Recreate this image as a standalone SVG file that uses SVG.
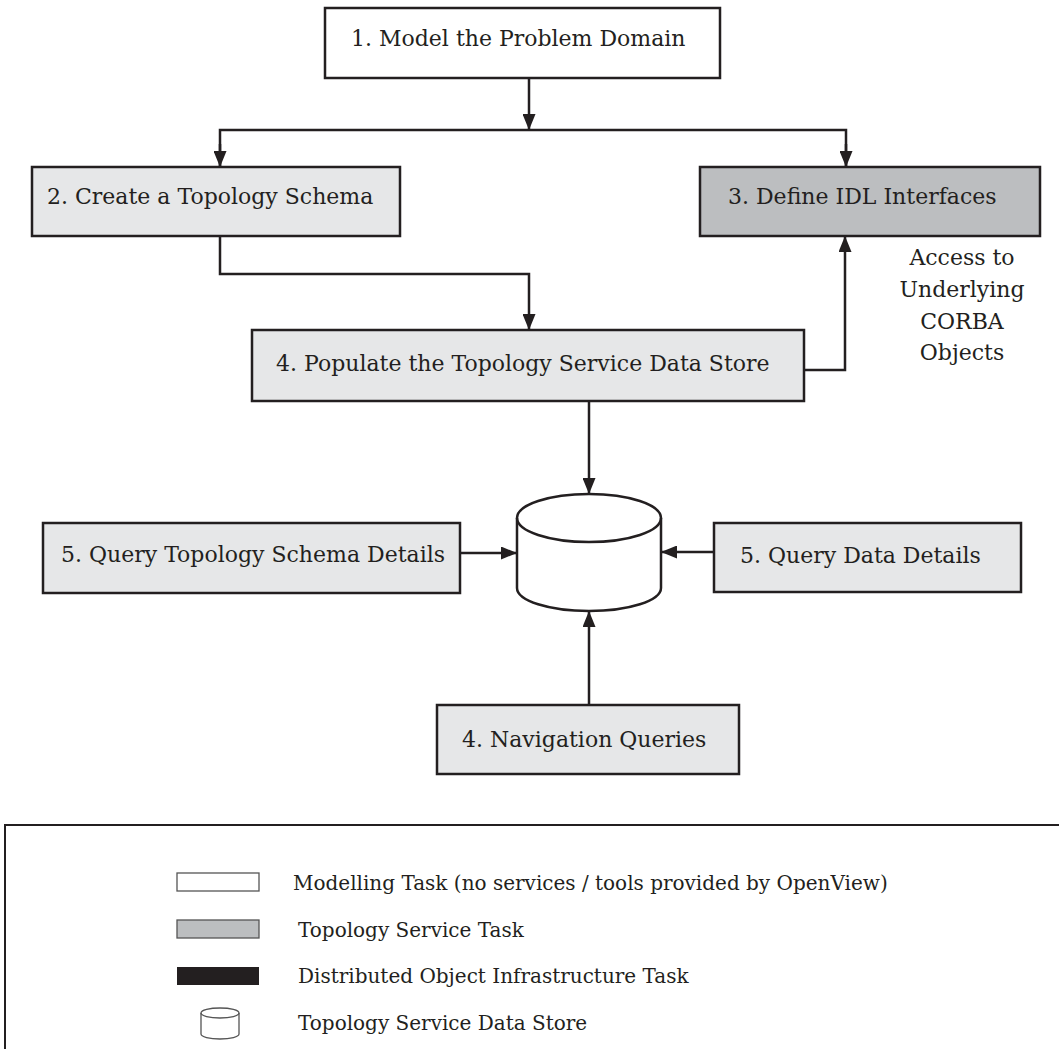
<svg xmlns="http://www.w3.org/2000/svg" width="1059" height="1049" viewBox="0 0 1059 1049">
<style>
.box{stroke:#231f20;stroke-width:2.5}
.white{fill:#ffffff}
.light{fill:#e6e7e8}
.dark{fill:#bcbec0}
.lbl{font-family:"DejaVu Serif","Liberation Serif",serif;font-size:22px;fill:#231f20}
.leglbl{font-family:"DejaVu Serif","Liberation Serif",serif;font-size:20px;fill:#231f20}
.conn{fill:none;stroke:#231f20;stroke-width:2.5}
.leg{stroke:#555;stroke-width:1.3}
</style>
<defs>
<marker id="ah" markerUnits="userSpaceOnUse" markerWidth="16" markerHeight="13" viewBox="0 0 16 13" refX="16" refY="6.5" orient="auto">
<path d="M0,0 L16,6.5 L0,13 Z" fill="#231f20"/>
</marker>
</defs>
<rect width="1059" height="1049" fill="#ffffff"/>
<g id="connectors">
<path class="conn" d="M529,78 V130" marker-end="url(#ah)"/>
<path class="conn" d="M220,167 V130 H846 V167" />
<path class="conn" d="M220,144 V167" marker-end="url(#ah)"/>
<path class="conn" d="M846,144 V167" marker-end="url(#ah)"/>
<path class="conn" d="M220,236 V274 H529 V330" marker-end="url(#ah)"/>
<path class="conn" d="M804,370 H845 V236" marker-end="url(#ah)"/>
<path class="conn" d="M589,401 V494" marker-end="url(#ah)"/>
<path class="conn" d="M460,553 H517" marker-end="url(#ah)"/>
<path class="conn" d="M714,552 H661" marker-end="url(#ah)"/>
<path class="conn" d="M589,705 V611" marker-end="url(#ah)"/>
</g>
<g id="n1">
<rect class="box white" x="325" y="8" width="395" height="70"/>
<text class="lbl" x="351" y="46">1. Model the Problem Domain</text>
</g>
<g id="n2">
<rect class="box light" x="32" y="167" width="368" height="69"/>
<text class="lbl" x="47" y="204">2. Create a Topology Schema</text>
</g>
<g id="n3">
<rect class="box dark" x="700" y="167" width="340" height="69"/>
<text class="lbl" x="728" y="204">3. Define IDL Interfaces</text>
</g>
<g id="access-label">
<text class="lbl" text-anchor="middle" x="962" y="265">Access to</text>
<text class="lbl" text-anchor="middle" x="962" y="297">Underlying</text>
<text class="lbl" text-anchor="middle" x="962" y="329">CORBA</text>
<text class="lbl" text-anchor="middle" x="962" y="360">Objects</text>
</g>
<g id="n4">
<rect class="box light" x="252" y="330" width="552" height="71"/>
<text class="lbl" x="276" y="371">4. Populate the Topology Service Data Store</text>
</g>
<g id="store">
<path class="box white" d="M517,518 V588 A72,23 0 0 0 661,588 V518 A72,24 0 0 0 517,518 Z"/>
<path class="box" fill="none" d="M517,518 A72,24 0 0 0 661,518"/>
</g>
<g id="n5a">
<rect class="box light" x="43" y="523" width="417" height="70"/>
<text class="lbl" x="61" y="562">5. Query Topology Schema Details</text>
</g>
<g id="n5b">
<rect class="box light" x="714" y="523" width="307" height="69"/>
<text class="lbl" x="740" y="563">5. Query Data Details</text>
</g>
<g id="n4b">
<rect class="box light" x="437" y="705" width="302" height="69"/>
<text class="lbl" x="462" y="747">4. Navigation Queries</text>
</g>
<g id="legend">
<path fill="none" stroke="#231f20" stroke-width="2" d="M5,1049 V825 H1059"/>
<rect class="leg white" x="177" y="873" width="82" height="18"/>
<text class="leglbl" x="293" y="890">Modelling Task (no services / tools provided by OpenView)</text>
<rect class="leg dark" x="177" y="920" width="82" height="18"/>
<text class="leglbl" x="298" y="937">Topology Service Task</text>
<rect fill="#231f20" x="177" y="967" width="82" height="18"/>
<text class="leglbl" x="298" y="983">Distributed Object Infrastructure Task</text>
<path class="leg white" d="M201,1013 V1034 A19,5 0 0 0 239,1034 V1013 A19,5 0 0 0 201,1013 Z"/>
<path class="leg" fill="none" d="M201,1013 A19,5 0 0 0 239,1013"/>
<text class="leglbl" x="298" y="1030">Topology Service Data Store</text>
</g>
</svg>
